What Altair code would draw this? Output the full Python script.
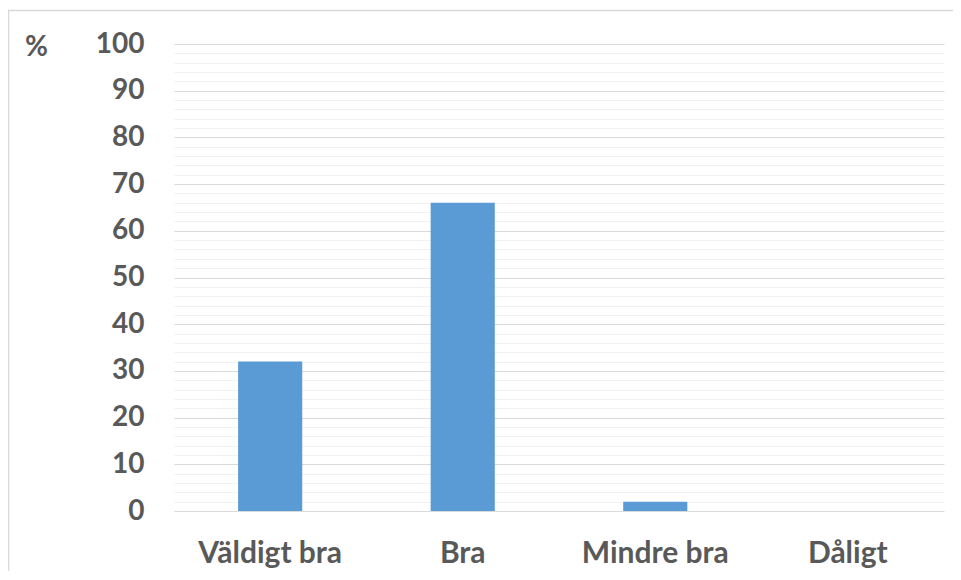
import altair as alt
import pandas as pd

categories = ["Väldigt bra", "Bra", "Mindre bra", "Dåligt"]
values = [32, 66, 2, 0]
y_ticks = list(range(0, 101, 2))

df = pd.DataFrame({"cat": categories, "pct": values})

FONT = "Lato"
TXT = "#595959"

bars = alt.Chart(df).mark_bar(color="#5B9BD5").encode(
    x=alt.X(
        "cat:N",
        sort=categories,
        scale=alt.Scale(paddingInner=0.667, paddingOuter=0.333),
        axis=alt.Axis(
            title=None, labelAngle=0, domain=False, ticks=False, tickSize=0,
            labelPadding=27, labelFont=FONT, labelFontWeight="bold",
            labelFontSize=30, labelColor=TXT, labelBaseline="top",
        ),
    ),
    y=alt.Y(
        "pct:Q",
        scale=alt.Scale(domain=[0, 100], nice=False),
        axis=alt.Axis(
            values=y_ticks,
            labelExpr="datum.value % 10 === 0 ? datum.label : ''",
            labelOverlap=False,
            labelFlush=False,
            domain=False, ticks=False, tickSize=0, labelPadding=30,
            labelFont=FONT, labelFontWeight="bold", labelFontSize=28, labelColor=TXT,
            gridColor={"condition": {"test": "datum.value % 10 === 0", "value": "#D9D9D9"}, "value": "#F2F2F2"},
            gridWidth=1,
            title="%", titleAngle=0, titleX=-138, titleY=3, titleAlign="center",
            titleBaseline="middle", titleFont=FONT, titleFontWeight="bold",
            titleFontSize=28, titleColor=TXT,
        ),
    ),
)

border = alt.Chart(pd.DataFrame({"b": [0]})).mark_rect(
    fill=None, stroke="#D9D9D9", strokeWidth=1.5
).encode(
    x=alt.value(-165.5), x2=alt.value(786), y=alt.value(-33.5), y2=alt.value(600)
)

chart = alt.layer(border, bars).properties(
    width=770, height=467,
    autosize=alt.AutoSizeParams(type="none"),
    padding={"left": 166, "top": 36, "right": 9, "bottom": 60},
).configure_view(stroke=None)

chart.save("out.html", embed_options={"renderer": "svg", "actions": False})
